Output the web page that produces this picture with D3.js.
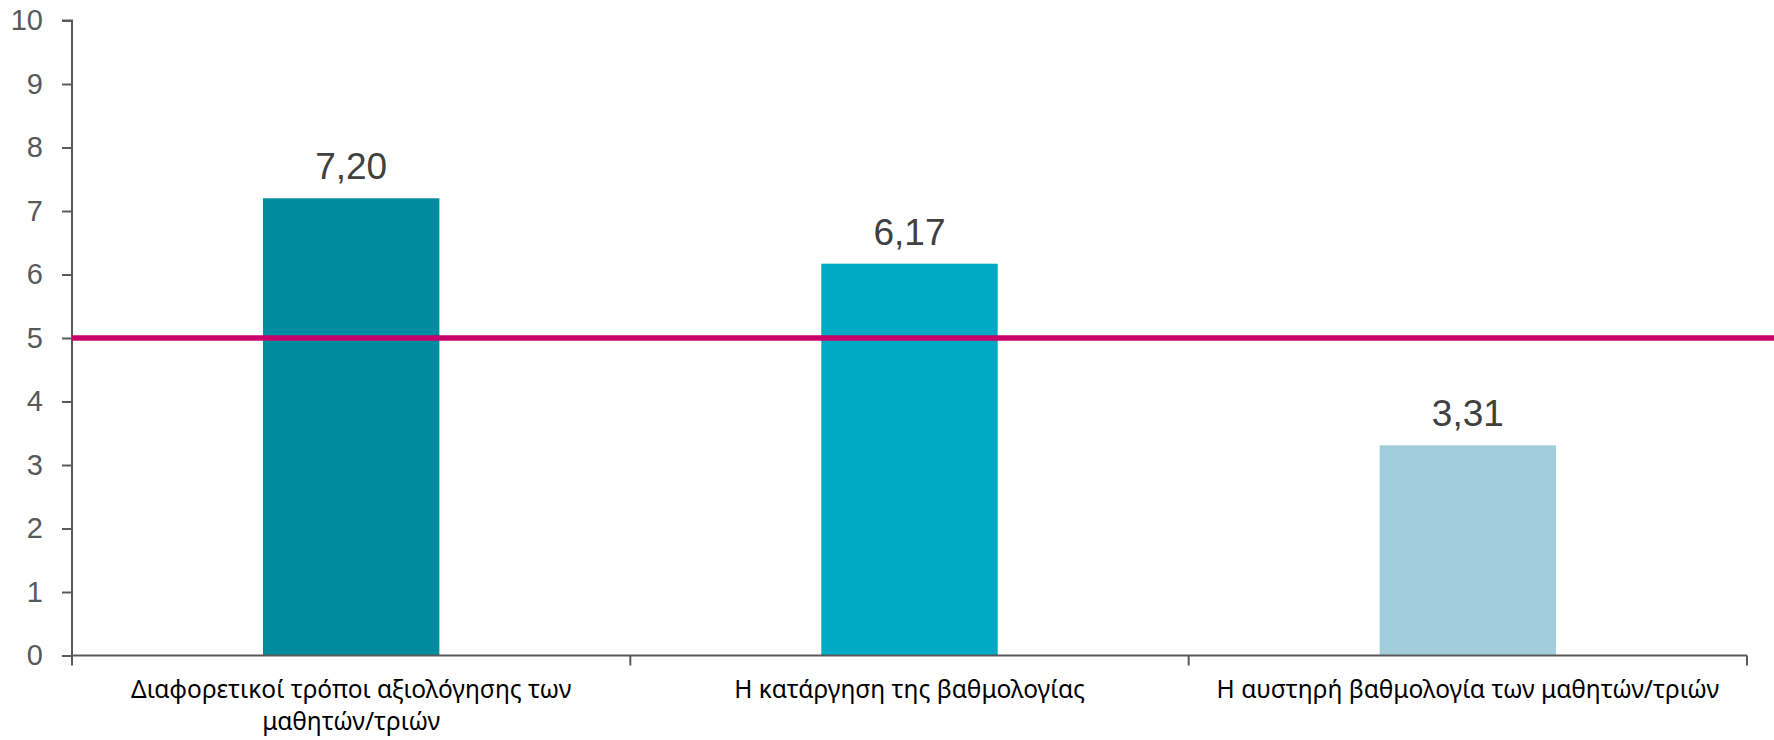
<!DOCTYPE html>
<html>
<head>
<meta charset="utf-8">
<script src="https://cdn.jsdelivr.net/npm/d3@7"></script>
<style>
  body { margin: 0; background: #fff; }
</style>
</head>
<body>
<div id="my_dataviz"></div>
<script>
// data
var categories = [
  "Διαφορετικοί τρόποι αξιολόγησης των\nμαθητών/τριών",
  "Η κατάργηση της βαθμολογίας",
  "Η αυστηρή βαθμολογία των μαθητών/τριών"
];
var values = [7.20, 6.17, 3.31];
var barColors = ["#008c9f", "#00aac4", "#a2cedb"];
var yTicks = [0, 1, 2, 3, 4, 5, 6, 7, 8, 9, 10];
var refValue = 5;

var vizx = 1774, vizy = 740;
var margin = {top: 20.5, right: 27, bottom: 84.5, left: 72},
  width = vizx - margin.left - margin.right,
  height = vizy - margin.top - margin.bottom;

var root = d3.select("#my_dataviz")
  .append("svg")
    .attr("width", vizx)
    .attr("height", vizy);

var svg = root.append("g")
  .attr("transform", "translate(" + margin.left + "," + margin.top + ")");

var x = d3.scaleBand()
  .range([0, width])
  .domain(categories)
  .paddingInner(0)
  .paddingOuter(0);

var y = d3.scaleLinear()
  .domain([0, 10])
  .range([height, 0]);

var barW = x.bandwidth() * 0.316;

// bars
svg.selectAll(".bar")
  .data(values)
  .enter()
  .append("rect")
    .attr("class", "bar")
    .attr("x", function(d, i) { return x(categories[i]) + x.bandwidth() / 2 - barW / 2 })
    .attr("y", function(d) { return y(d) })
    .attr("width", barW)
    .attr("height", function(d) { return height - y(d) })
    .style("fill", function(d, i) { return barColors[i] });

// value labels
svg.selectAll(".vlabel")
  .data(values)
  .enter()
  .append("text")
    .attr("class", "vlabel")
    .attr("x", function(d, i) { return x(categories[i]) + x.bandwidth() / 2 })
    .attr("y", function(d) { return y(d) - 19 })
    .attr("text-anchor", "middle")
    .style("font-family", "'Liberation Sans', Arial, sans-serif")
    .style("font-size", "37px")
    .style("fill", "#404040")
    .text(function(d) { return d.toFixed(2).replace(".", ",") });

// y axis
var yAxis = svg.append("g")
  .call(d3.axisLeft(y).tickValues(yTicks).tickSize(10).tickPadding(19).tickFormat(d3.format("d")));
yAxis.select(".domain").attr("stroke", "#595959").attr("stroke-width", 2)
  .attr("d", "M0," + height + "V0H-10");
yAxis.selectAll(".tick line").attr("stroke", "#595959").attr("stroke-width", 2);
yAxis.selectAll(".tick text")
  .style("font-family", "'Liberation Sans', Arial, sans-serif")
  .style("font-size", "29px")
  .style("fill", "#595959");

// x axis: ticks on category boundaries
var xAxis = svg.append("g").attr("transform", "translate(0," + height + ")");
xAxis.append("line")
  .attr("x1", 0).attr("x2", width)
  .attr("stroke", "#595959").attr("stroke-width", 2);
var bounds = [0].concat(categories.map(function(c) { return x(c) + x.bandwidth() }));
xAxis.selectAll(".xtick")
  .data(bounds)
  .enter()
  .append("line")
    .attr("x1", function(d) { return d }).attr("x2", function(d) { return d })
    .attr("y1", 0).attr("y2", 10)
    .attr("stroke", "#595959").attr("stroke-width", 2);

var labels = xAxis.selectAll(".xlabel")
  .data(categories)
  .enter()
  .append("text")
    .attr("class", "xlabel")
    .attr("text-anchor", "middle")
    .attr("transform", function(d) { return "translate(" + (x(d) + x.bandwidth() / 2) + ",42)" })
    .style("font-family", "'Noto Sans', 'Open Sans', sans-serif")
    .style("font-size", "24.5px")
    .style("fill", "#000");
labels.each(function(d) {
  var t = d3.select(this);
  d.split("\n").forEach(function(line, i) {
    t.append("tspan").attr("x", 0).attr("y", i * 32).text(line);
  });
});

// reference line at 5
svg.append("line")
  .attr("x1", 0)
  .attr("x2", vizx - margin.left)
  .attr("y1", y(refValue))
  .attr("y2", y(refValue))
  .attr("stroke", "#c8006a")
  .attr("stroke-width", 5.5);
</script>
</body>
</html>
